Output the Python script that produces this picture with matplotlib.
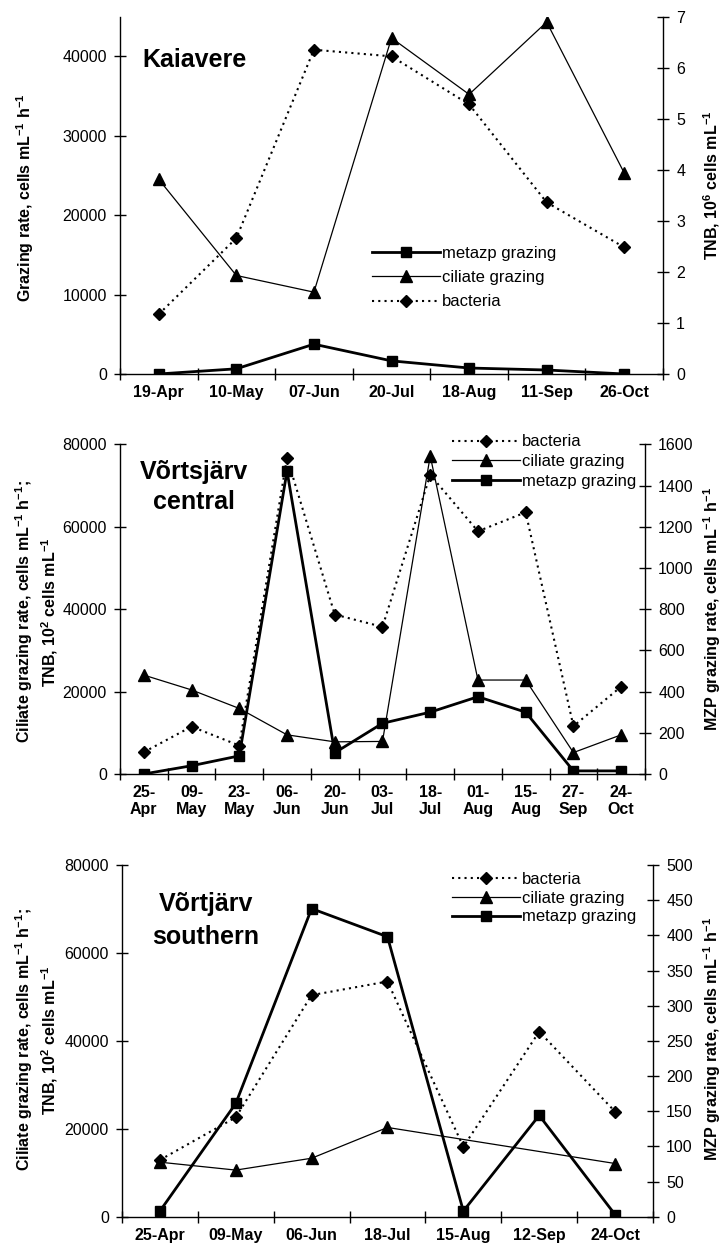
import numpy as np
import matplotlib
matplotlib.use("Agg")
import matplotlib.pyplot as plt
from matplotlib.ticker import FixedLocator, NullFormatter

plt.rcParams['font.family'] = ['Liberation Sans', 'DejaVu Sans']
plt.rcParams['mathtext.fontset'] = 'custom'
plt.rcParams['mathtext.bf'] = 'Liberation Sans:bold'
plt.rcParams['mathtext.rm'] = 'Liberation Sans:bold'
plt.rcParams['mathtext.default'] = 'bf'

# --- Kaiavere ---
kai_dates = ['19-Apr', '10-May', '07-Jun', '20-Jul', '18-Aug', '11-Sep', '26-Oct']
kai_metazp = [0, 650, 3750, 1650, 750, 500, 0]
kai_ciliate = [24500, 12400, 10300, 42300, 35200, 44300, 25300]
kai_bacteria = [1.17, 2.66, 6.35, 6.22, 5.28, 3.36, 2.48]   # 10^6 cells/mL

# --- Vortsjarv central ---
cen_dates = ['25-\nApr', '09-\nMay', '23-\nMay', '06-\nJun', '20-\nJun', '03-\nJul',
             '18-\nJul', '01-\nAug', '15-\nAug', '27-\nSep', '24-\nOct']
cen_bacteria = [5300, 11500, 6900, 76800, 38700, 35700, 72600, 58900, 63500, 11600, 21200]
cen_ciliate = [24000, 20400, 15900, 9500, 7800, 7900, 77200, 22800, 22800, 5200, 9500]
cen_metazp = [0, 40, 88, 1470, 103, 246, 300, 375, 300, 15, 15]

# --- Vortsjarv southern ---
sou_dates = ['25-Apr', '09-May', '06-Jun', '18-Jul', '15-Aug', '12-Sep', '24-Oct']
sou_bacteria = [12900, 22600, 50400, 53500, 15900, 42100, 23900]
sou_ciliate = [12400, 10600, 13300, 20300, np.nan, np.nan, 12100]
sou_metazp = [8, 161, 438, 398, 8, 144, 3]

W, H = 724, 1252
fig = plt.figure(figsize=(W / 100, H / 100), dpi=100)

met_kw = dict(color='black', lw=2.0, marker='s', ms=7, label='metazp grazing')
cil_kw = dict(color='black', lw=0.9, marker='^', ms=8, label='ciliate grazing')
bac_kw = dict(color='black', lw=1.5, ls=(0, (1, 2)), marker='D', ms=6, label='bacteria')


def plot_series(ax, y, **kw):
    y = np.asarray(y, dtype=float)
    x = np.arange(len(y))
    ok = np.isfinite(y)
    return ax.plot(x[ok], y[ok], **kw)[0]


def style_axes(ax, ax2, labels, ylim, yticks, ylim2, yticks2):
    n = len(labels)
    ax.set_xlim(-0.5, n - 0.5)
    ax.xaxis.set_major_locator(FixedLocator(np.arange(-0.5, n, 1.0)))
    ax.xaxis.set_major_formatter(NullFormatter())
    ax.xaxis.set_minor_locator(FixedLocator(np.arange(n)))
    ax.set_xticklabels(labels, minor=True, fontweight='bold', fontsize=11.5)
    ax.tick_params(axis='x', which='minor', length=0, pad=8)
    ax.tick_params(axis='x', which='major', direction='inout', length=9, width=1)
    ax.set_ylim(*ylim)
    ax.set_yticks(yticks)
    ax.tick_params(axis='y', direction='inout', length=9, width=1, labelsize=11.5, pad=5)
    ax2.set_ylim(*ylim2)
    ax2.set_yticks(yticks2)
    ax2.tick_params(axis='y', direction='inout', length=9, width=1, labelsize=11.5, pad=5)
    for s in ['top', 'right']:
        ax.spines[s].set_visible(False)
    for s in ['top', 'left', 'bottom']:
        ax2.spines[s].set_visible(False)
    for a in (ax, ax2):
        for s in a.spines.values():
            s.set_linewidth(1.0)


def side_label(text, px, py, **kw):
    # vertical axis title placed by its centre, in pixels from the top-left
    fig.text(px / W, 1 - py / H, text, rotation=90, ha='center', va='center',
             fontweight='bold', fontsize=11.5, multialignment='center', **kw)


leg_kw = dict(frameon=True, facecolor='white', edgecolor='none', framealpha=1,
              fontsize=12, handlelength=4.1, handletextpad=0.1,
              borderpad=0.0, borderaxespad=0.0, fancybox=False)

two_line = 'Ciliate grazing rate, cells mL$^{-1}$ h$^{-1}$;\nTNB, 10$^{2}$ cells mL$^{-1}$'
mzp_label = 'MZP grazing rate, cells mL$^{-1}$ h$^{-1}$'

# Panel 1
ax = fig.add_axes([0.1657, 0.7013, 0.7501, 0.2855])
ax2 = ax.twinx()
h_met = plot_series(ax, kai_metazp, **met_kw)
h_cil = plot_series(ax, kai_ciliate, **cil_kw)
h_bac = plot_series(ax2, kai_bacteria, **bac_kw)
style_axes(ax, ax2, kai_dates, (0, 45000), range(0, 45000, 10000), (0, 7), range(0, 8))
side_label('Grazing rate, cells mL$^{-1}$ h$^{-1}$', 25, 198)
side_label('TNB, 10$^{6}$ cells mL$^{-1}$', 712, 185)
ax.text(0.042, 0.878, 'Kaiavere', transform=ax.transAxes, fontsize=18,
        fontweight='bold', ha='left', va='center')
ax2.legend([h_met, h_cil, h_bac], [h.get_label() for h in (h_met, h_cil, h_bac)],
           loc='upper left', bbox_to_anchor=(0.464, 0.358), labelspacing=0.55, **leg_kw)

# Panel 2
ax = fig.add_axes([0.1657, 0.3818, 0.7252, 0.2633])
ax2 = ax.twinx()
h_bac = plot_series(ax, cen_bacteria, **bac_kw)
h_cil = plot_series(ax, cen_ciliate, **cil_kw)
h_met = plot_series(ax2, cen_metazp, **met_kw)
style_axes(ax, ax2, cen_dates, (0, 80000), range(0, 80001, 20000), (0, 1600), range(0, 1601, 200))
side_label(two_line, 37, 612, linespacing=1.25)
side_label(mzp_label, 712, 609)
ax.text(0.141, 0.870, 'Võrtsjärv\ncentral', transform=ax.transAxes, fontsize=18,
        fontweight='bold', ha='center', va='center', linespacing=1.3)
ax2.legend([h_bac, h_cil, h_met], [h.get_label() for h in (h_bac, h_cil, h_met)],
           loc='upper left', bbox_to_anchor=(0.632, 1.03), labelspacing=0.28, **leg_kw)

# Panel 3
ax = fig.add_axes([0.1685, 0.0282, 0.7334, 0.2809])
ax2 = ax.twinx()
h_bac = plot_series(ax, sou_bacteria, **bac_kw)
h_cil = plot_series(ax, sou_ciliate, **cil_kw)
h_met = plot_series(ax2, sou_metazp, **met_kw)
style_axes(ax, ax2, sou_dates, (0, 80000), range(0, 80001, 20000), (0, 500), range(0, 501, 50))
side_label(two_line, 37, 1040, linespacing=1.25)
side_label(mzp_label, 712, 1039)
ax.text(0.158, 0.842, 'Võrtjärv\nsouthern', transform=ax.transAxes, fontsize=18,
        fontweight='bold', ha='center', va='center', linespacing=1.5)
ax2.legend([h_bac, h_cil, h_met], [h.get_label() for h in (h_bac, h_cil, h_met)],
           loc='upper left', bbox_to_anchor=(0.621, 0.98), labelspacing=0.22, **leg_kw)

fig.savefig('out.png', dpi=100)
